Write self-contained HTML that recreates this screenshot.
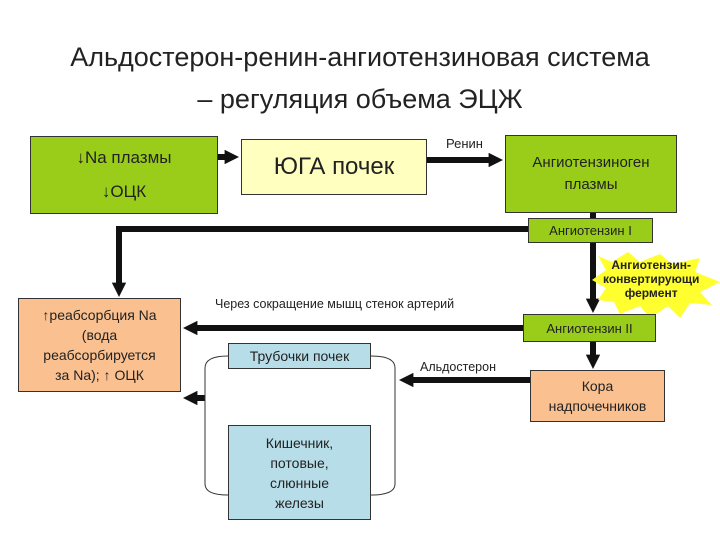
<!DOCTYPE html>
<html><head><meta charset="utf-8"><style>
body{margin:0;width:720px;height:540px;background:#fff;font-family:"Liberation Sans","DejaVu Sans",sans-serif;position:relative;overflow:hidden}
.b{position:absolute;border:1px solid #333;box-sizing:border-box;display:flex;flex-direction:column;align-items:center;justify-content:center;text-align:center;color:#222}
.g{background:#9acd1a}.y{background:#ffffc0}.o{background:#fac090}.c{background:#b7dde8}
.t{position:absolute;color:#222;white-space:nowrap}
</style></head><body>
<div class="t" style="left:0;width:720px;text-align:center;top:36px;font-size:27px;line-height:42px;color:#222">Альдостерон-ренин-ангиотензиновая система<br>– регуляция объема ЭЦЖ</div>
<svg width="720" height="540" style="position:absolute;left:0;top:0">
<defs><marker id="a" markerWidth="2.4" markerHeight="2.4" refX="0.4" refY="1.2" orient="auto"><path d="M0,0L2.4,1.2L0,2.4z" fill="#111"/></marker></defs>
<g stroke="#111" stroke-width="6" fill="none">
<line x1="218" y1="157" x2="227" y2="157" marker-end="url(#a)"/>
<line x1="427" y1="160" x2="491" y2="160" marker-end="url(#a)"/>
<polyline points="528,229 119,229 119,285" marker-end="url(#a)"/>
<line x1="593" y1="213" x2="593" y2="218"/>
<line x1="593" y1="243" x2="593" y2="301" marker-end="url(#a)"/>
<line x1="523" y1="328" x2="195" y2="328" marker-end="url(#a)"/>
<line x1="593" y1="342" x2="593" y2="357" marker-end="url(#a)"/>
<line x1="530" y1="380" x2="411" y2="380" marker-end="url(#a)"/>
<line x1="205" y1="398" x2="195" y2="398" marker-end="url(#a)"/>
</g>
<polygon points="598,256 612,262 628,252 640,262 660,254 672,264 700,258 695,272 720,282 700,292 712,305 690,303 680,318 668,306 650,318 640,306 620,314 614,302 598,300 606,288 592,280 606,270" fill="#ffff30"/>
<g stroke="#333" stroke-width="1" fill="none">
<path d="M228,356 Q205,356 205,368 L205,484 Q205,495 228,495"/>
<path d="M371,356 Q395,356 395,368 L395,484 Q395,495 371,495"/>
</g>
</svg>
<div class="b g" style="left:30px;top:136px;width:188px;height:78px;font-size:17px;line-height:34px">↓Na плазмы<br>↓ОЦК</div>
<div class="b y" style="left:241px;top:139px;width:186px;height:56px;font-size:24px">ЮГА почек</div>
<div class="t" style="left:446px;top:136px;font-size:13px">Ренин</div>
<div class="b g" style="left:505px;top:135px;width:172px;height:78px;font-size:15px;line-height:22px">Ангиотензиноген<br>плазмы</div>
<div class="b g" style="left:528px;top:218px;width:125px;height:25px;font-size:13px">Ангиотензин I</div>
<div class="t" style="left:603px;top:258px;font-size:12px;font-weight:bold;text-align:center;line-height:14px">Ангиотензин-<br>конвертирующи<br>фермент</div>
<div class="t" style="left:215px;top:297px;font-size:12.5px">Через сокращение мышц стенок артерий</div>
<div class="b g" style="left:523px;top:314px;width:133px;height:28px;font-size:13px">Ангиотензин II</div>
<div class="b o" style="left:18px;top:298px;width:163px;height:94px;font-size:14px;line-height:20px">↑реабсорбция Na<br>(вода<br>реабсорбируется<br>за Na); ↑ ОЦК</div>
<div class="b c" style="left:228px;top:343px;width:143px;height:26px;font-size:14px">Трубочки почек</div>
<div class="t" style="left:420px;top:360px;font-size:12.5px">Альдостерон</div>
<div class="b o" style="left:530px;top:370px;width:135px;height:52px;font-size:14px;line-height:20px">Кора<br>надпочечников</div>
<div class="b c" style="left:228px;top:425px;width:143px;height:95px;font-size:14px;line-height:20px">Кишечник,<br>потовые,<br>слюнные<br>железы</div>
</body></html>
